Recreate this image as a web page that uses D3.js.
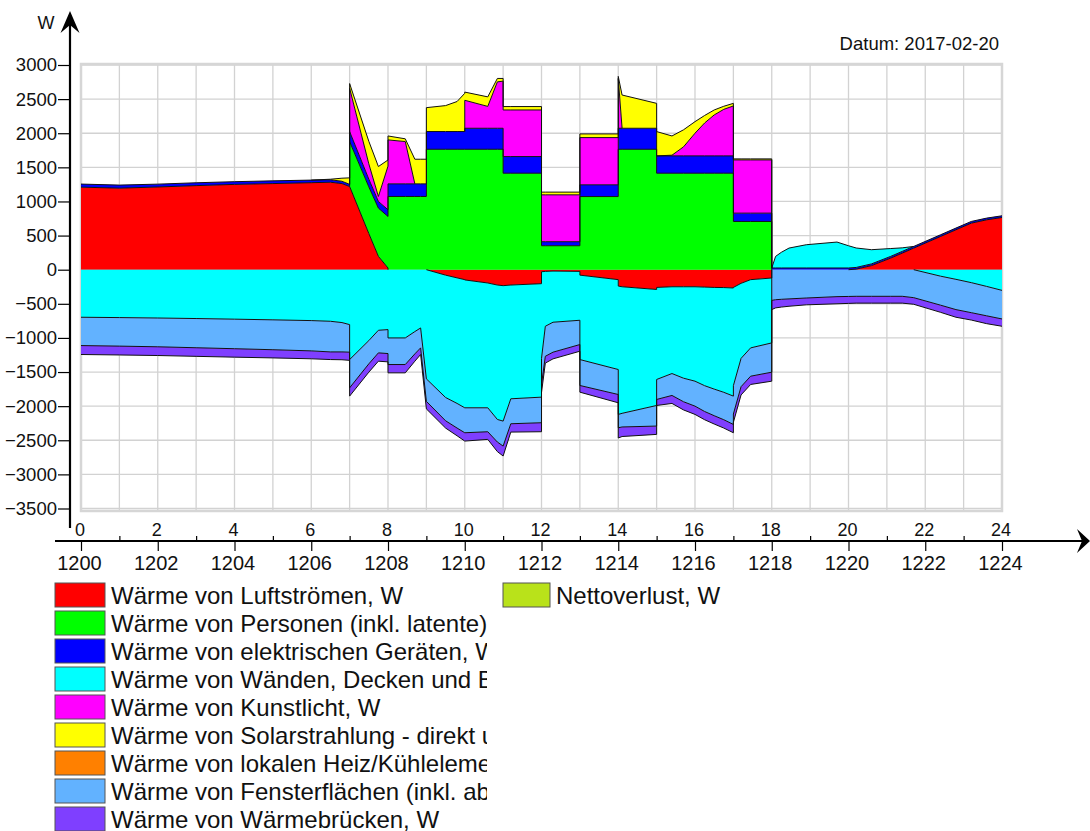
<!DOCTYPE html>
<html><head><meta charset="utf-8">
<script src="https://cdn.jsdelivr.net/npm/d3@7"></script>
<style>
body{margin:0;background:#fff}
svg{display:block;font-family:"Liberation Sans",Arial,sans-serif}
</style>
</head><body>
<svg id="c" width="1090" height="831"></svg>
<script>
// ---- data (hours of day; duplicated hours mark step changes) ----
const hours = [0,1,2,3,4,5,6,6.5,6.8,7, 7,7.5,7.75,8, 8,8.45,8.7,8.85,9, 9,9.5,9.8,10, 10,10.6,10.85,11, 11,11.2,12, 12,12.1,12.3,13, 13,14, 14,14.1,15, 15,15.4,15.7,16,16.25,16.5,16.75,17, 17,17.2,17.45,18, 18,18.1,18.25,18.45,18.9,19.7,20,20.2,20.6,21.1,21.4,21.7,22.4,22.8,23.2,23.6,24];

const luft = [1210,1195,1212,1232,1250,1262,1275,1282,1262,1219, 1219,530,195,25, 0,0,0,0,0, 0,-80,-120,-146, -150,-195,-225,-234, -234,-225,-205, -30,-25,-20,-25, -80,-146, -240,-250,-290, -260,-250,-250,-250,-255,-260,-262,-268, -260,-200,-146,-122, 0,0,0,0,0,0,0,8,60,170,243,316,487,585,682,731,765];
const personen = [0,0,0,0,0,0,0,0,0,0, 658,684,707,755, 1073,1073,1073,1073,1073, 1765,1765,1765,1765, 1765,1765,1765,1765, 1414,1414,1414, 351,351,351,351, 1072,1072, 1765,1765,1765, 1414,1414,1414,1414,1414,1414,1414,1414, 707,707,707,707, 0,0,0,0,0,0,0,0,0,0,0,0,0,0,0,0,0];
const geraete = [45,45,42,42,40,40,38,36,34,32, 147,113,98,98, 185,185,185,185,185, 260,260,260,260, 308,308,308,308, 244,244,244, 59,59,59,59, 172,172, 308,308,308, 254,254,254,254,254,254,254,254, 122,122,122,122, 25,25,25,25,25,25,25,25,25,25,25,25,25,25,25,25,25];
const waende = [-697,-702,-708,-716,-725,-735,-746,-756,-775,-805, -1317,-1039,-888,-878, -1000,-1000,-907,-854,-1600, -1600,-1793,-1840,-1878, -1874,-1829,-1970,-1985, -1985,-1667,-1663, -1270,-804,-750,-716, -1237,-1317, -1881,-1855,-1700, -1349,-1272,-1340,-1384,-1445,-1490,-1535,-1585, -1440,-1100,-1000,-951, 0,170,230,292,341,380,326,285,208,115,52,0,-95,-141,-190,-245,-303];
const kunstlicht = [0,0,0,0,0,0,0,0,0,0, 634,224,73,640, 644,620,0,0,0, 0,0,0,0, 410,320,680,690, 683,683,683, 687,687,687,687, 692,692, 730,0,0, 0,10,132,332,482,600,682,732, 780,780,780,780, 0,0,0,0,0,0,0,0,0,0,0,0,0,0,0,0,0];
const solar = [0,0,0,0,0,0,0,8,45,95, 70,331,439,90, 58,40,361,361,361, 350,380,440,560, 120,140,50,40, 50,50,50, 40,40,40,40, 54,54, 30,487,365, 356,282,250,170,110,73,45,38, 15,15,15,15, 0,0,0,0,0,0,0,0,0,0,0,0,0,0,0,0,0];
const heizKuehl = [0,0,0,0,0,0,0,0,0,0, 0,0,0,0, 0,0,0,0,0, 0,0,0,0, 0,0,0,0, 0,0,0, 0,0,0,0, 0,0, 0,0,0, 0,0,0,0,0,0,0,0, 0,0,0,0, 0,0,0,0,0,0,0,0,0,0,0,0,0,0,0,0,0];
const fenster = [-415,-418,-422,-428,-433,-438,-444,-449,-430,-404, -414,-341,-331,-351, -390,-390,-327,-292,-330, -330,-341,-361,-366, -366,-351,-331,-366, -366,-366,-375, -380,-440,-439,-356, -380,-366, -196,-200,-302, -293,-321,-345,-366,-378,-390,-402,-415, -415,-415,-415,-429, -450,-440,-434,-428,-415,-395,-392,-390,-390,-390,-390,-410,-425,-444,-440,-431,-419];
const bruecken = [-131,-130,-128,-126,-124,-120,-116,-112,-115,-120, -122,-122,-122,-122, -122,-122,-107,-97,-110, -110,-107,-113,-122, -122,-112,-140,-146, -146,-122,-132, -120,-100,-98,-98, -98,-122, -150,-140,-122, -88,-117,-120,-121,-121,-122,-122,-122, -122,-121,-121,-132, -135,-120,-114,-108,-100,-105,-102,-100,-100,-100,-100,-97,-105,-112,-108,-115,-107];

const seriesNames = [
  "Wärme von Luftströmen, W",
  "Wärme von Personen (inkl. latente), W",
  "Wärme von elektrischen Geräten, W",
  "Wärme von Wänden, Decken und Böden, W",
  "Wärme von Kunstlicht, W",
  "Wärme von Solarstrahlung - direkt und diffus, W",
  "Wärme von lokalen Heiz/Kühlelementen, W",
  "Wärme von Fensterflächen (inkl. abs. Solarstrahlung), W",
  "Wärme von Wärmebrücken, W"
];
const extraLegend = "Nettoverlust, W";
const yTicks = [3000,2500,2000,1500,1000,500,0,-500,-1000,-1500,-2000,-2500,-3000,-3500];
const xTopLabels = [0,2,4,6,8,10,12,14,16,18,20,22,24];
const xBottomLabels = ["1200","1202","1204","1206","1208","1210","1212","1214","1216","1218","1220","1222","1224"];
const dateLabel = "Datum: 2017-02-20";

// ---- styles ----
const colors = ["#ff0000","#00ff00","#0000ff","#00ffff","#ff00ff","#ffff00","#ff8000","#62b2ff","#7f3fff"];
const extraColor = "#b9e21a";
const FONT = "'Liberation Sans', Arial, sans-serif";

const values = [luft, personen, geraete, waende, kunstlicht, solar, heizKuehl, fenster, bruecken];
const keys = values.map((_, i) => "s" + i);
const n = hours.length;
const rows = hours.map((h, j) => {
  const r = {};
  values.forEach((v, i) => { r[keys[i]] = v[j]; });
  return r;
});

const svg = d3.select("#c");
const x = d3.scaleLinear().domain([0, 24]).range([81, 1002]);
const y = d3.scaleLinear().domain([-3500, 3000]).range([508.5, 65]);

// grid
const grid = svg.append("g");
grid.selectAll("line.v").data(d3.range(1, 24)).join("line")
  .attr("x1", d => x(d)).attr("x2", d => x(d)).attr("y1", 64).attr("y2", 511)
  .attr("stroke", "#d2d2d2").attr("stroke-width", 1.3);
grid.selectAll("line.h").data(yTicks).join("line")
  .attr("x1", 81).attr("x2", 1002).attr("y1", d => y(d)).attr("y2", d => y(d))
  .attr("stroke", "#d2d2d2").attr("stroke-width", 1.3);
svg.append("rect").attr("x", 81).attr("y", 64).attr("width", 921).attr("height", 447)
  .attr("fill", "none").attr("stroke", "#d6d6d6").attr("stroke-width", 2.5);

// stacks: positive parts and negative parts separately
const posStack = d3.stack().keys(keys).value((d, k) => Math.max(0, d[k]))(rows);
const negStack = d3.stack().keys(keys).value((d, k) => Math.min(0, d[k]))(rows);

const area = d3.area()
  .x((d, j) => x(hours[j]))
  .y0(d => y(d[0]))
  .y1(d => y(d[1]));

const areas = svg.append("g");
keys.forEach((k, i) => {
  areas.append("path").attr("d", area(posStack[i])).attr("fill", colors[i]);
  areas.append("path").attr("d", area(negStack[i])).attr("fill", colors[i]);
});

// outlines on the outer edge of every layer
const edge = d3.line().defined(d => d.on).x(d => x(d.t)).y(d => y(d.v));
const outl = svg.append("g").attr("fill", "none").attr("stroke", "#111").attr("stroke-width", 1);
values.forEach((v, i) => {
  const posPts = v.map((a, j) => ({
    t: hours[j], v: posStack[i][j][1],
    on: a > 0 || (a === 0 && ((j > 0 && v[j - 1] > 0) || (j < n - 1 && v[j + 1] > 0)))
  }));
  const negPts = v.map((a, j) => ({
    t: hours[j], v: negStack[i][j][1],
    on: a < 0 || (a === 0 && ((j > 0 && v[j - 1] < 0) || (j < n - 1 && v[j + 1] < 0)))
  }));
  outl.append("path").attr("d", edge(posPts));
  outl.append("path").attr("d", edge(negPts));
});

// y axis
const yAxis = svg.append("g").attr("transform", "translate(70,0)")
  .call(d3.axisLeft(y).tickValues(yTicks).tickSize(12).tickSizeOuter(0).tickPadding(1).tickFormat(d3.format("d")));
yAxis.select(".domain").remove();
yAxis.selectAll(".tick line").attr("stroke", "#000").attr("stroke-width", 1.2);
yAxis.selectAll("text").attr("font-size", 18.5).attr("fill", "#111").attr("font-family", FONT);
svg.append("line").attr("x1", 70).attr("x2", 70).attr("y1", 20).attr("y2", 528)
  .attr("stroke", "#000").attr("stroke-width", 2.2);
svg.append("path").attr("d", "M70,11 L60.5,33 L70,25 L79.5,33 Z").attr("fill", "#000");
svg.append("text").attr("x", 46).attr("y", 29).attr("text-anchor", "middle")
  .attr("font-size", 18).attr("fill", "#111").text("W");

// x axes
const AX = 541;
svg.append("line").attr("x1", 55).attr("x2", 1082).attr("y1", AX).attr("y2", AX)
  .attr("stroke", "#000").attr("stroke-width", 2.2);
svg.append("path").attr("d", `M1090,${AX} L1077,${AX-12} L1082,${AX} L1077,${AX+12} Z`).attr("fill", "#000");

const topOdd = svg.append("g").attr("transform", `translate(0,${AX})`)
  .call(d3.axisTop(x).tickValues(d3.range(1, 24, 2)).tickSize(5).tickSizeOuter(0).tickFormat(""));
topOdd.select(".domain").remove();
topOdd.selectAll(".tick line").attr("stroke", "#000").attr("stroke-width", 1.2);

const topLab = svg.append("g").attr("transform", `translate(0,${AX})`)
  .call(d3.axisTop(x).tickValues(xTopLabels).tickSize(0).tickPadding(5).tickFormat(d3.format("d")));
topLab.select(".domain").remove();
topLab.selectAll("text").attr("font-size", 18).attr("fill", "#111").attr("dx", -1.5).attr("font-family", FONT);

const botAx = svg.append("g").attr("transform", `translate(0,${AX})`)
  .call(d3.axisBottom(x).tickValues(xTopLabels).tickSize(10).tickSizeOuter(0).tickPadding(5)
    .tickFormat((d, i) => xBottomLabels[i]));
botAx.select(".domain").remove();
botAx.selectAll(".tick line").attr("stroke", "#000").attr("stroke-width", 1.2);
botAx.selectAll("text").attr("font-size", 20).attr("fill", "#111").attr("dx", -2).attr("font-family", FONT);

// date label
svg.append("text").attr("x", 999).attr("y", 50).attr("text-anchor", "end")
  .attr("font-size", 18.5).attr("fill", "#111").text(dateLabel);

// legend
svg.append("defs").append("clipPath").attr("id", "lc")
  .append("rect").attr("x", 0).attr("y", 570).attr("width", 487).attr("height", 261);
const leg = svg.append("g");
leg.selectAll("rect.sw").data(seriesNames).join("rect")
  .attr("x", 55).attr("y", (d, i) => 583 + i * 28).attr("width", 50).attr("height", 24)
  .attr("fill", (d, i) => colors[i]).attr("stroke", "#555").attr("stroke-width", 1);
const legText = svg.append("g").attr("clip-path", "url(#lc)");
legText.selectAll("text").data(seriesNames).join("text")
  .attr("x", 111).attr("y", (d, i) => 603.5 + i * 28)
  .attr("font-size", 24).attr("fill", "#111").text(d => d);

leg.append("rect").attr("x", 503).attr("y", 583).attr("width", 47).attr("height", 24)
  .attr("fill", extraColor).attr("stroke", "#555").attr("stroke-width", 1);
leg.append("text").attr("x", 556).attr("y", 603.5).attr("font-size", 24).attr("fill", "#111").text(extraLegend);
</script>
</body></html>
